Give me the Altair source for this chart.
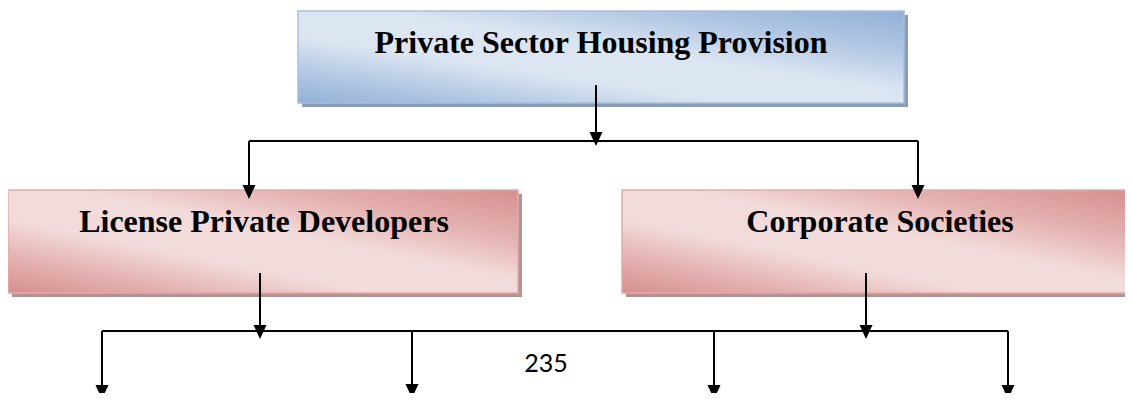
import altair as alt
import pandas as pd

# ---- diagram content ----
box_labels = ["Private Sector Housing Provision", "License Private Developers", "Corporate Societies"]
box_kind = ["blue", "pink", "pink"]
box_x0 = [298, 8, 622]
box_x1 = [904, 518, 1127]
box_y0 = [11, 190, 190]
box_y1 = [103, 293, 293]
label_x = [601, 264, 880]
label_y = [53, 232, 232]

# connector segments (x0, y0) -> (x1, y1)
seg_x0 = [596, 249, 249, 918, 260, 866, 102, 102, 412, 714, 1008]
seg_y0 = [85, 141, 141, 141, 273, 273, 331, 331, 331, 331, 331]
seg_x1 = [596, 918, 249, 918, 260, 866, 1008, 102, 412, 714, 1008]
seg_y1 = [140, 141, 192, 192, 332, 332, 331, 392, 392, 392, 392]

# arrow tips
tip_x = [596, 249, 918, 260, 866, 102, 412, 714, 1008]
tip_y = [146, 199, 199, 339, 339, 399, 398, 399, 399]

page_label = ["235"]
page_x = [546]
page_y = [372]

boxes = pd.DataFrame({"label": box_labels, "kind": box_kind, "x0": box_x0, "x1": box_x1,
                      "y0": box_y0, "y1": box_y1, "lx": label_x, "ly": label_y})
boxes["sx0"] = boxes["x0"] + 4
boxes["sx1"] = boxes["x1"] + 4
boxes["sy0"] = boxes["y0"] + 4
boxes["sy1"] = boxes["y1"] + 4
segs = pd.DataFrame({"x0": seg_x0, "y0": seg_y0, "x1": seg_x1, "y1": seg_y1})
tips = pd.DataFrame({"x": tip_x, "y": tip_y})
page = pd.DataFrame({"t": page_label, "x": page_x, "y": page_y})

xs = alt.Scale(domain=[8, 1125], nice=False, zero=False)
ys = alt.Scale(domain=[8, 393], nice=False, zero=False, reverse=True)

def grad(dark, mid, light):
    return alt.LinearGradient(
        gradient="linear",
        stops=[alt.GradientStop(color=dark, offset=0),
               alt.GradientStop(color=mid, offset=0.18),
               alt.GradientStop(color=light, offset=0.36),
               alt.GradientStop(color=light, offset=0.56),
               alt.GradientStop(color=mid, offset=0.76),
               alt.GradientStop(color=dark, offset=1)],
        x1=0, y1=1, x2=1, y2=0)

blue = alt.Chart(boxes[boxes.kind == "blue"])
pink = alt.Chart(boxes[boxes.kind == "pink"])

def rect_layers(base, shadow_col, dark, mid, light, border):
    shadow = base.mark_rect(fill=shadow_col).encode(
        x=alt.X("sx0:Q", scale=xs, axis=None), x2="sx1:Q",
        y=alt.Y("sy0:Q", scale=ys, axis=None), y2="sy1:Q")
    body = base.mark_rect(fill=grad(dark, mid, light), stroke=border, strokeWidth=1.5).encode(
        x=alt.X("x0:Q", scale=xs, axis=None), x2="x1:Q",
        y=alt.Y("y0:Q", scale=ys, axis=None), y2="y1:Q")
    return shadow + body

blue_l = rect_layers(blue, "#8d9db4", "#92b0d6", "#b4c9e4", "#dce6f2", "#a7bfdf")
pink_l = rect_layers(pink, "#b39292", "#d68f8e", "#e4b2b1", "#f2dcdb", "#e3abab")

labels = alt.Chart(boxes).mark_text(font="Liberation Serif", fontWeight="bold", fontSize=32,
                                    color="black", baseline="alphabetic", align="center").encode(
    x=alt.X("lx:Q", scale=xs, axis=None), y=alt.Y("ly:Q", scale=ys, axis=None), text="label:N")

lines = alt.Chart(segs).mark_rule(color="black", strokeWidth=2).encode(
    x=alt.X("x0:Q", scale=xs, axis=None), x2="x1:Q",
    y=alt.Y("y0:Q", scale=ys, axis=None), y2="y1:Q")

heads = alt.Chart(tips).mark_point(shape="M-0.93,-2L0.93,-2L0,0Z", size=196, filled=True,
                                   color="black", opacity=1, strokeWidth=0).encode(
    x=alt.X("x:Q", scale=xs, axis=None), y=alt.Y("y:Q", scale=ys, axis=None))

pg = alt.Chart(page).mark_text(font="Lato", fontSize=25, color="black",
                               baseline="alphabetic", align="center").encode(
    x=alt.X("x:Q", scale=xs, axis=None), y=alt.Y("y:Q", scale=ys, axis=None), text="t:N")

chart = alt.layer(blue_l, pink_l, labels, lines, heads, pg).properties(
    width=1117, height=385, padding=0, autosize=alt.AutoSizeParams(type="none"),
    background="white"
).configure_view(stroke=None)

chart.save("out.html", embed_options={"renderer": "svg", "actions": False})
